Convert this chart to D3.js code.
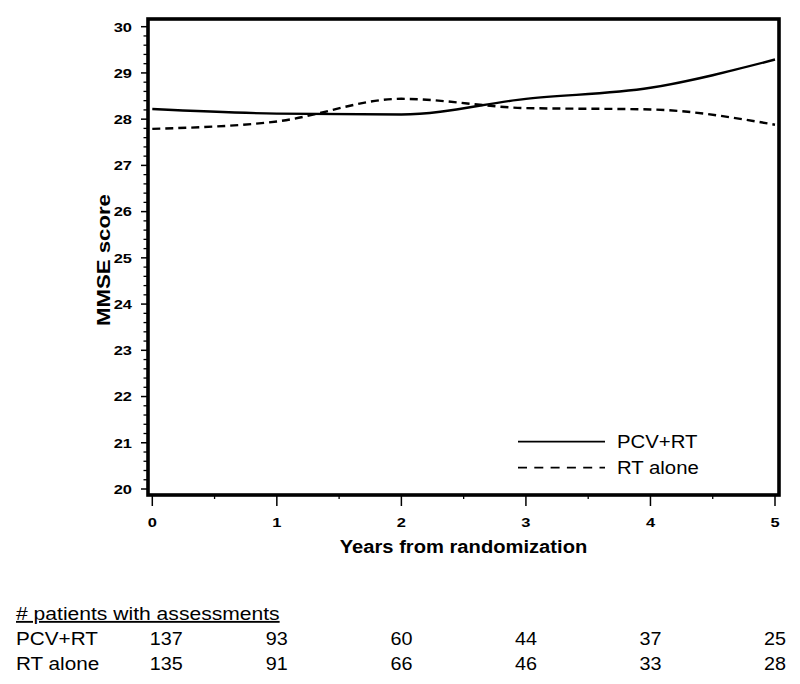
<!DOCTYPE html>
<html>
<head>
<meta charset="utf-8">
<script src="https://cdn.jsdelivr.net/npm/d3@7"></script>
<style>
  html, body { margin: 0; padding: 0; background: #fff; }
  svg { display: block; font-family: "Liberation Sans", Arial, sans-serif; }
</style>
</head>
<body>
<svg id="chart" width="800" height="684"></svg>
<script>
// ---- data ----
const years = [0, 1, 2, 3, 4, 5];
const pcvRT = [28.22, 28.12, 28.10, 28.44, 28.68, 29.29];
const rtAlone = [27.79, 27.95, 28.44, 28.24, 28.21, 27.88];
const seriesNames = ["PCV+RT", "RT alone"];
const nPcv = [137, 93, 60, 44, 37, 25];
const nRt = [135, 91, 66, 46, 33, 28];
const yTicks = [20, 21, 22, 23, 24, 25, 26, 27, 28, 29, 30];
const xTicks = [0, 1, 2, 3, 4, 5];
const xTitle = "Years from randomization";
const yTitle = "MMSE score";
const tableTitle = "# patients with assessments";

// ---- layout ----
const svg = d3.select("#chart");
const frame = { left: 148, right: 779, top: 19, bottom: 495 };
const x = d3.scaleLinear().domain([0, 5]).range([152.3, 775]);
const y = d3.scaleLinear().domain([20, 30]).range([489, 26.7]);

function stext(g, txt, px, py, size, sx, opts = {}) {
  const t = g.append("text")
    .attr("transform", `translate(${px},${py})${opts.rotate ? " rotate(" + opts.rotate + ")" : ""} scale(${sx},1)`)
    .attr("font-size", size)
    .attr("font-weight", opts.bold ? "bold" : "normal")
    .attr("text-anchor", opts.anchor || "start")
    .attr("fill", "#000")
    .text(txt);
  if (opts.underline) t.attr("text-decoration", "underline");
  return t;
}

// minor ticks y
const yMinor = d3.range(20, 30.001, 0.2).filter(v => Math.abs(v - Math.round(v)) > 1e-6);
svg.append("g").selectAll("line").data(yMinor).join("line")
  .attr("x1", frame.left - 4.5).attr("x2", frame.left)
  .attr("y1", d => y(d)).attr("y2", d => y(d))
  .attr("stroke", "#000").attr("stroke-width", 1.3);
// major ticks y
svg.append("g").selectAll("line").data(yTicks).join("line")
  .attr("x1", frame.left - 7).attr("x2", frame.left)
  .attr("y1", d => y(d)).attr("y2", d => y(d))
  .attr("stroke", "#000").attr("stroke-width", 1.5);
const gy = svg.append("g");
yTicks.forEach(v => stext(gy, String(v), 132, y(v) + 4.8, 13.5, 1.22, { bold: true, anchor: "end" }));

// x ticks
const xMinor = d3.range(0.5, 5, 1);
svg.append("g").selectAll("line").data(xMinor).join("line")
  .attr("x1", d => x(d)).attr("x2", d => x(d))
  .attr("y1", frame.bottom).attr("y2", frame.bottom + 4)
  .attr("stroke", "#000").attr("stroke-width", 1.3);
svg.append("g").selectAll("line").data(xTicks).join("line")
  .attr("x1", d => x(d)).attr("x2", d => x(d))
  .attr("y1", frame.bottom).attr("y2", frame.bottom + 11)
  .attr("stroke", "#000").attr("stroke-width", 1.5);
const gx = svg.append("g");
xTicks.forEach(v => stext(gx, String(v), x(v), 527, 13.5, 1.22, { bold: true, anchor: "middle" }));

// titles
stext(svg, xTitle, (frame.left + frame.right) / 2, 553, 18.5, 1.09, { bold: true, anchor: "middle" });
stext(svg, yTitle, 109.5, 260, 18.5, 1.2, { bold: true, anchor: "middle", rotate: -90 });

// lines
const line = d3.line().x((d, i) => x(years[i])).y(d => y(d)).curve(d3.curveMonotoneX);
const clip = svg.append("clipPath").attr("id", "clip").append("rect")
  .attr("x", frame.left).attr("y", frame.top)
  .attr("width", frame.right - frame.left).attr("height", frame.bottom - frame.top);
svg.append("path").datum(pcvRT).attr("d", line)
  .attr("fill", "none").attr("stroke", "#000").attr("stroke-width", 2.4)
  .attr("clip-path", "url(#clip)");
svg.append("path").datum(rtAlone).attr("d", line)
  .attr("fill", "none").attr("stroke", "#000").attr("stroke-width", 2.4)
  .attr("stroke-dasharray", "8,5")
  .attr("clip-path", "url(#clip)");

// frame
svg.append("rect")
  .attr("x", frame.left).attr("y", frame.top)
  .attr("width", frame.right - frame.left).attr("height", frame.bottom - frame.top)
  .attr("fill", "none").attr("stroke", "#000").attr("stroke-width", 3.6);

// legend
const lg = svg.append("g");
const legY = [441.7, 467.7];
seriesNames.forEach((name, i) => {
  lg.append("line").attr("x1", 518).attr("x2", 605)
    .attr("y1", legY[i]).attr("y2", legY[i])
    .attr("stroke", "#000").attr("stroke-width", 1.8)
    .attr("stroke-dasharray", i === 1 ? "9,7.3" : null);
  stext(lg, name, 617, legY[i] + 6.6, 18.5, 1.1, {});
});

// table
const tg = svg.append("g");
stext(tg, tableTitle, 16, 620, 18.5, 1.14, { underline: true });
const rows = [nPcv, nRt];
const rowY = [645, 669.5];
rows.forEach((vals, r) => {
  stext(tg, seriesNames[r], 16, rowY[r], 18.5, 1.12, {});
  vals.forEach((v, i) => {
    const cx = x(years[i]) + (i === 0 ? 14 : 0);
    stext(tg, String(v), cx, rowY[r], 18.5, 1.07, { anchor: "middle" });
  });
});
</script>
</body>
</html>
